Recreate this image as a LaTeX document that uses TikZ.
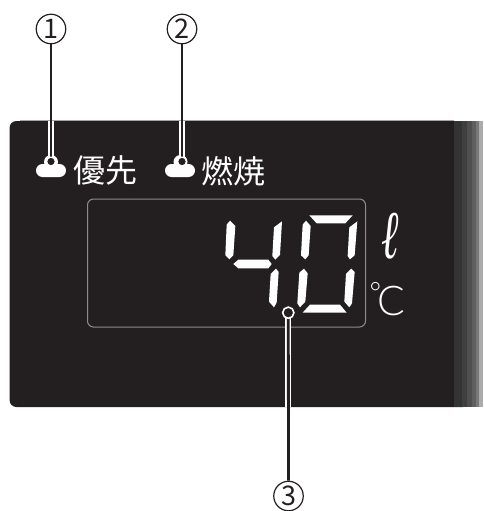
\documentclass[tikz,border=0pt]{standalone}
\usepackage{fontspec}
\setmainfont{Noto Sans CJK JP}
\newfontfamily\lfont{Noto Sans CJK JP}
\newfontfamily\thinfont{Lato Light}
\newfontfamily\ellfont{Liberation Serif}
\definecolor{panel}{HTML}{231F20}
\tikzset{
  seg/.style={fill=white,draw=none},
  label/.style={text=white,inner sep=0pt,font=\lfont\fontsize{32}{32}\selectfont},
  callout/.style={circle,draw=panel,line width=1.2pt,minimum size=29.5pt,inner sep=0pt,text=panel,font=\lfont\fontsize{27}{27}\selectfont},
  leader/.style={draw=panel,line width=2.8pt},
  halo/.style={draw=white,line width=6pt},
}
\begin{document}
\begin{tikzpicture}[x=1pt,y=-1pt]
\useasboundingbox (0,0) rectangle (483,511);
% panel
\fill[panel,rounded corners=7pt] (9.5,121) rectangle (470,407);
\fill[panel] (440,121) rectangle (454,407);
\foreach \xa/\xb/\c in {454/462/333333,462/467/3F3F3F,467/472/4F4F4F,472/476/5F5F5F,476/479/787878,479/483/ABABAB}{
  \definecolor{bandc}{HTML}{\c}
  \fill[bandc] (\xa,120.5) rectangle (\xb,407);
}
\draw[gray!70,line width=.6pt] (20,120.7) -- (454,120.7);
% display frame
\node[draw=black!45,line width=1pt,rounded corners=6pt,minimum width=278pt,minimum height=128pt,inner sep=0pt] (frame) at (226.5,263) {};
% segments
\begin{scope}[shift={(200,190)},x=0.3333pt,y=-0.3333pt]
\fill[seg] (90,92)--(106,108)--(100,196)--(88,208)--(76,196)--(80,104)--cycle;
\fill[seg] (100,222)--(115,209)--(205,209)--(215,222)--(205,235)--(115,235)--cycle;
\fill[seg] (246,94)--(240,195)--(226,209)--(217,198)--(222,112)--cycle;
\fill[seg] (228,236)--(236,246)--(230,338)--(222,352)--(207,335)--(212,252)--cycle;
\fill[seg] (318,92)--(332,108)--(326,196)--(316,208)--(303,196)--(308,104)--cycle;
\fill[seg] (328,76)--(458,76)--(436,100)--(350,100)--cycle;
\fill[seg] (472,94)--(464,196)--(450,208)--(443,198)--(448,112)--cycle;
\fill[seg] (454,236)--(464,246)--(456,340)--(448,352)--(433,335)--(438,252)--cycle;
\fill[seg] (312,236)--(323,250)--(316,335)--(300,352)--(292,340)--(298,248)--cycle;
\fill[seg] (330,344)--(420,344)--(440,368)--(308,368)--cycle;
\end{scope}
% lamps
\fill[white,rounded corners=6.5pt] (36,164) rectangle (66,177);
\fill[white] (51,162) circle (7pt);
\fill[white,rounded corners=6.5pt] (165,164) rectangle (195,177);
\fill[white] (180.5,162) circle (7pt);
\node[label] (t1) at (105,170.5) {優先};
\node[label] (t2) at (233,171) {燃焼};
\node[text=white,inner sep=0pt,xscale=.95,yscale=1.55,font=\ellfont\itshape\fontsize{44}{44}\selectfont] (ell) at (390,236) {ℓ};
\node[text=white,inner sep=0pt,anchor=base west,font=\thinfont\fontsize{41}{41}\selectfont] (deg) at (369.5,315) {\raisebox{13pt}{\fontsize{28}{28}\selectfont °}\kern-4pt C};
% callouts
\node[callout] (c1) at (51,29) {1};
\node[callout] (c2) at (182,29) {2};
\node[callout] (c3) at (288.5,496) {3};
\coordinate (r1) at (51,161.5);
\coordinate (r2) at (182,161.5);
\coordinate (r3) at (288.3,312.7);
\coordinate (p1) at (51,121);
\coordinate (p2) at (182,121);
\coordinate (p3) at (288.3,407);
\draw[halo] (p1) -- (r1);
\draw[halo] (p2) -- (r2);
\draw[halo] (p3) -- (r3);
\draw[leader] (c1) -- (r1);
\draw[leader] (c2) -- (r2);
\draw[leader] (c3) -- (r3);
\draw[white,line width=1.2pt,fill=panel] (r1) circle (4.4pt);
\draw[white,line width=1.2pt,fill=panel] (r2) circle (4.4pt);
\draw[white,line width=1.6pt,fill=panel] (r3) circle (5.6pt);
\end{tikzpicture}
\end{document}
